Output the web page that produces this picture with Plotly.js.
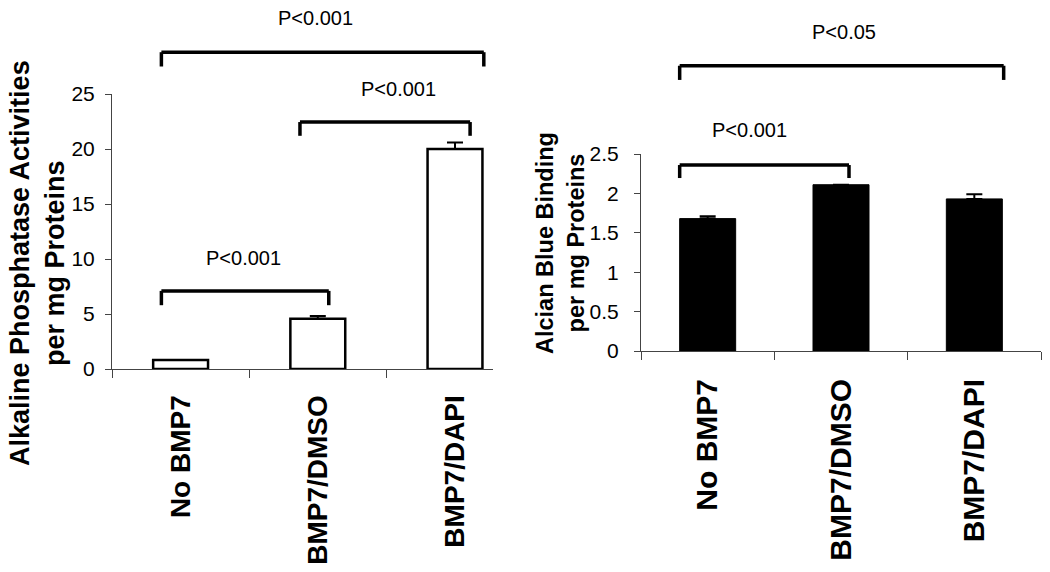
<!DOCTYPE html>
<html>
<head>
<meta charset="utf-8">
<script src="https://cdn.plot.ly/plotly-3.0.1.min.js"></script>
<style>html,body{margin:0;padding:0;background:#fff;}#chart{width:1050px;height:572px;}</style>
</head>
<body>
<div id="chart"></div>
<script>
// ---- data ----
const categories = ['No BMP7', 'BMP7/DMSO', 'BMP7/DAPI'];
const alpValues = [0.82, 4.57, 20.0];
const alpErrors = [0, 0.25, 0.6];
const alcianValues = [1.68, 2.11, 1.93];
const alcianErrors = [0.03, 0, 0.06];
const leftTitle = 'Alkaline Phosphatase Activities<br>per mg Proteins';
const rightTitle = 'Alcian Blue Binding<br>per mg Proteins';
// significance brackets (data units)
const leftFrom = [-0.14, 0.87, -0.14];
const leftTo = [1.08, 2.11, 2.21];
const leftTop = [7.1, 22.45, 28.8];
const leftLeg = [5.8, 21.2, 27.5];
const leftLabels = ['P<0.001', 'P<0.001', 'P<0.001'];
const leftLabelX = [0.46, 1.585, 0.98];
const leftLabelY = [10.1, 25.5, 31.9];
const rightFrom = [-0.21, -0.21];
const rightTo = [2.22, 1.06];
const rightTop = [3.62, 2.36];
const rightLeg = [3.44, 2.195];
const rightLabels = ['P<0.05', 'P<0.001'];
const rightLabelX = [1.02, 0.315];
const rightLabelY = [4.05, 2.80];

const FONT = '"Liberation Sans", Arial, sans-serif';
const leftMax = 25, rightMax = 2.5;

const traces = [
  {
    type: 'bar', x: categories, y: alpValues, xaxis: 'x', yaxis: 'y',
    width: 0.4,
    marker: {color: '#ffffff', line: {color: '#000000', width: 2.5}},
    error_y: {type: 'data', symmetric: false, array: alpErrors, arrayminus: alpErrors.map(() => 0),
      color: '#000', thickness: 2, width: 8},
    hoverinfo: 'x+y'
  },
  {
    type: 'bar', x: categories, y: alcianValues, xaxis: 'x2', yaxis: 'y2',
    width: 0.42,
    marker: {color: '#000000', line: {color: '#000000', width: 1}},
    error_y: {type: 'data', symmetric: false, array: alcianErrors, arrayminus: alcianErrors.map(() => 0),
      color: '#000', thickness: 2, width: 8},
    hoverinfo: 'x+y'
  }
];

const shapes = [];
const annotations = [];
function addBrackets(xref, yref, ymax, from, to, top, leg, labels, lx, ly) {
  const line = {color: '#000', width: 3.5};
  for (let i = 0; i < from.length; i++) {
    shapes.push({type: 'line', xref, yref, x0: from[i], x1: to[i], y0: top[i] / ymax, y1: top[i] / ymax, line});
    shapes.push({type: 'line', xref, yref, x0: from[i], x1: from[i], y0: top[i] / ymax, y1: leg[i] / ymax, line});
    shapes.push({type: 'line', xref, yref, x0: to[i], x1: to[i], y0: top[i] / ymax, y1: leg[i] / ymax, line});
    annotations.push({xref, yref, x: lx[i], y: ly[i] / ymax, text: labels[i], showarrow: false,
      xanchor: 'center', yanchor: 'middle', font: {family: FONT, size: 20, color: '#000'}});
  }
}
addBrackets('x', 'y domain', leftMax, leftFrom, leftTo, leftTop, leftLeg, leftLabels, leftLabelX, leftLabelY);
addBrackets('x2', 'y2 domain', rightMax, rightFrom, rightTo, rightTop, rightLeg, rightLabels, rightLabelX, rightLabelY);

annotations.push({xref: 'paper', yref: 'paper', x: 37 / 1050, y: 1 - 263 / 572, text: '<b>' + leftTitle + '</b>',
  textangle: -90, showarrow: false, xanchor: 'center', yanchor: 'middle',
  font: {family: FONT, size: 27, color: '#000'}});
annotations.push({xref: 'paper', yref: 'paper', x: 561 / 1050, y: 1 - 243 / 572, text: '<b>' + rightTitle + '</b>',
  textangle: -90, showarrow: false, xanchor: 'center', yanchor: 'middle',
  font: {family: FONT, size: 23.5, color: '#000'}});

const axisCommon = {showline: true, linecolor: '#444', linewidth: 1, ticks: 'outside', tickcolor: '#444',
  tickwidth: 1, showgrid: false, zeroline: false, automargin: false, fixedrange: true};

const layout = {
  width: 1050, height: 572,
  margin: {l: 0, r: 0, t: 0, b: 0, pad: 0},
  paper_bgcolor: '#ffffff', plot_bgcolor: '#ffffff',
  showlegend: false,
  font: {family: FONT, color: '#000'},
  xaxis: Object.assign({}, axisCommon, {
    type: 'category', domain: [112 / 1050, 493 / 1050], range: [-0.5, 2.277], anchor: 'y',
    tickson: 'boundaries', ticklen: 8, tickangle: -90, ticklabelstandoff: 14,
    tickfont: {family: FONT, size: 28, color: '#000', weight: 'bold'}
  }),
  yaxis: Object.assign({}, axisCommon, {
    domain: [1 - 369 / 572, 1 - 94 / 572], range: [0, leftMax], dtick: 5, tick0: 0, anchor: 'x',
    ticklen: 6, ticklabelstandoff: 6, tickfont: {family: FONT, size: 21, color: '#000'}
  }),
  xaxis2: Object.assign({}, axisCommon, {
    type: 'category', domain: [641 / 1050, 1041 / 1050], range: [-0.5, 2.5], anchor: 'y2',
    tickson: 'boundaries', ticklen: 8, tickangle: -90, ticklabelstandoff: 15,
    tickfont: {family: FONT, size: 30, color: '#000', weight: 'bold'}
  }),
  yaxis2: Object.assign({}, axisCommon, {
    domain: [1 - 351 / 572, 1 - 154 / 572], range: [0, rightMax], dtick: 0.5, tick0: 0, anchor: 'x2',
    ticklen: 6, ticklabelstandoff: 11, tickfont: {family: FONT, size: 21, color: '#000'}
  }),
  shapes: shapes,
  annotations: annotations
};

Plotly.newPlot('chart', traces, layout, {displayModeBar: false, staticPlot: true});
</script>
</body>
</html>
